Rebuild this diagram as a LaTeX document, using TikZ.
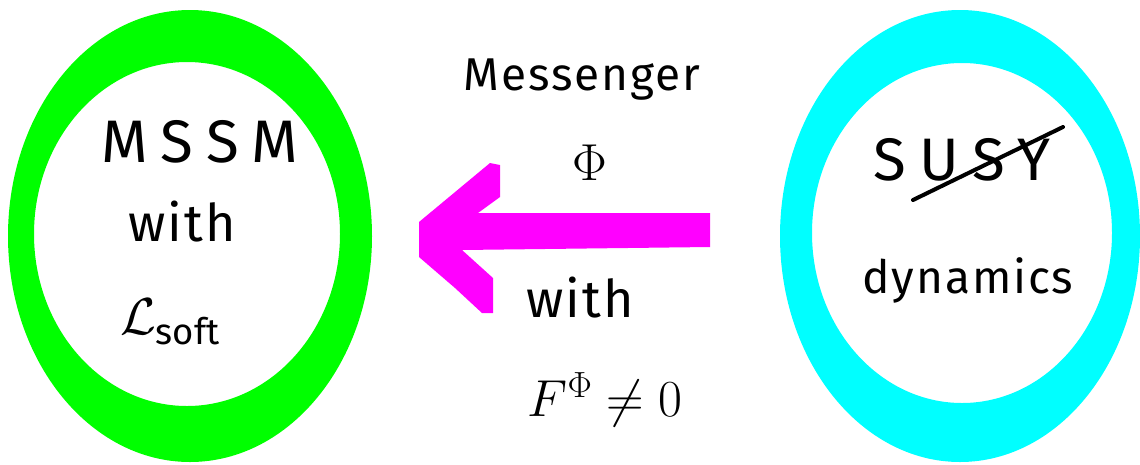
\RequirePackage{fix-cm}
\documentclass[tikz,border=0pt]{standalone}
\usepackage{fontspec}
\setmainfont{Fira Sans}
\definecolor{ringgreen}{HTML}{00FF00}
\definecolor{ringcyan}{HTML}{00FFFF}
\definecolor{arrowmag}{HTML}{FF00FF}
\begin{document}
\begin{tikzpicture}[x=1pt,y=-1pt,
  handbig/.style={font=\fontsize{60}{66}\selectfont\addfontfeatures{LetterSpace=22}, text=black, inner sep=0pt},
  handmid/.style={font=\fontsize{52}{58}\selectfont\addfontfeatures{LetterSpace=4}, text=black, inner sep=0pt},
  handsmall/.style={font=\fontsize{46}{52}\selectfont\addfontfeatures{LetterSpace=4}, text=black, inner sep=0pt}]
\useasboundingbox (0,0) rectangle (1140,464);
% green ring
\fill[ringgreen, even odd rule] (190,236) ellipse [x radius=182, y radius=226]
      (187,234) ellipse [x radius=153, y radius=172];
% cyan ring
\fill[ringcyan, even odd rule] (960,236) ellipse [x radius=180, y radius=226]
      (962,233) ellipse [x radius=150, y radius=170];
% magenta arrow
\fill[arrowmag] (710,213) -- (478,213) -- (500,197) -- (500,165) -- (490,163)
  -- (419,222) -- (419,257) -- (455,288) -- (482,313) -- (493,313) -- (493,278)
  -- (462,250) -- (710,247) -- cycle;
% left texts
\node[handbig] (mssm) at (200,142) {MSSM};
\node[handmid] (with1) at (182,222) {with};
\node[handmid] (lsoft) at (170,322) {$\mathcal{L}_{\mathrm{soft}}$};
% middle texts
\node[handsmall] (mess) at (582,80) {Messenger};
\node[handmid] (phi) at (590,163) {$\Phi$};
\node[handmid] (with2) at (580,298) {with};
\node[handmid] (fphi) at (605,400) {$F^{\Phi}\neq 0$};
% right texts
\node[handbig] (susy) at (962,160) {SUSY};
\draw[line width=4pt, line cap=round] (913,200) -- (1063,127);
\node[handsmall] (dyn) at (968,280) {dynamics};
\end{tikzpicture}
\end{document}
